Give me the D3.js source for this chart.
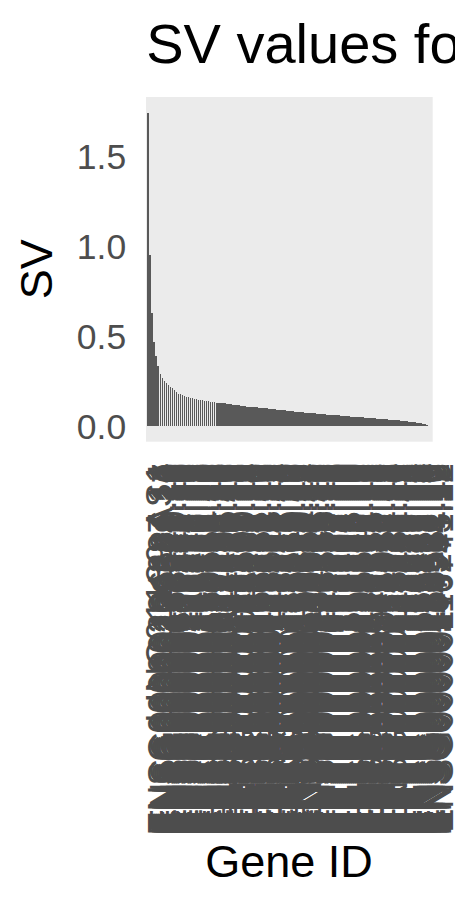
<!DOCTYPE html>
<html>
<head>
<meta charset="utf-8">
<script src="https://cdn.jsdelivr.net/npm/d3@7"></script>
<style>
  html, body { margin: 0; padding: 0; background: #ffffff; }
  svg { display: block; font-family: "Liberation Sans", Arial, Helvetica, sans-serif; }
</style>
</head>
<body>
<svg id="chart" width="455" height="910"></svg>
<script>
// ---- data ----
const genes = [
"LINC01139-AS1","ENSG00000204287.14","ENSG00000196126.11","ENSG00000179344.17","ENSG00000232629.10",
"ENSG00000198502.10","ENSG00000237541.10","ENSG00000163220.11","ENSG00000143546.10","ENSG00000090382.12",
"ENSG00000110848.10","ENSG00000169442.10","ENSG00000105374.10","ENSG00000115523.17","ENSG00000100453.13",
"ENSG00000211899.10","ENSG00000132465.12","ENSG00000170476.16","ENSG00000160255.18","ENSG00000100450.13",
"ENSG00000125730.17","ENSG00000213809.10","ENSG00000167286.10","ENSG00000198851.10","ENSG00000160654.11",
"ENSG00000134539.17","ENSG00000010610.10","ENSG00000153563.16","ENSG00000172116.23","ENSG00000277734.10",
"ENSG00000211772.10","ENSG00000081059.20","ENSG00000111796.11","ENSG00000134460.16","ENSG00000137078.10",
"ENSG00000113088.12","ENSG00000145649.13","ENSG00000159189.12","ENSG00000173372.17","ENSG00000173369.16",
"ENSG00000130203.10","ENSG00000011600.11","ENSG00000204472.13","ENSG00000129226.14","ENSG00000166927.13",
"ENSG00000163563.13","ENSG00000162654.10","ENSG00000108798.16","ENSG00000090339.10","ENSG00000163131.11",
"ENSG00000100365.15","ENSG00000026025.16","ENSG00000038427.16","ENSG00000087086.15","ENSG00000118523.11",
"ENSG00000167996.16","ENSG00000115414.21","ENSG00000164692.18","ENSG00000108821.14","ENSG00000168542.15",
"ENSG00000142156.15","ENSG00000163359.16","ENSG00000187498.16","ENSG00000148180.20","ENSG00000134871.19",
"ENSG00000149968.12","ENSG00000113140.11","ENSG00000125968.10","ENSG00000101335.10","ENSG00000175084.13",
"ENSG00000139329.11","ENSG00000120885.22","ENSG00000116016.14","ENSG00000105664.11","ENSG00000111640.15",
"ENSG00000075624.17","ENSG00000166710.21","ENSG00000204592.10","ENSG00000234745.11","ENSG00000206503.13",
"ENSG00000231389.10","ENSG00000223865.11","ENSG00000196735.12","ENSG00000179583.19","ENSG00000242574.10",
"ENSG00000204257.15","ENSG00000019582.15","ENSG00000168685.15","ENSG00000198938.10","ENSG00000198712.10",
"ENSG00000198804.10","ENSG00000198886.10","ENSG00000212907.10","ENSG00000198727.10","ENSG00000198899.10",
"ENSG00000228253.10","ENSG00000198840.10","ENSG00000198763.10","ENSG00000198695.10","ENSG00000156508.18",
"ENSG00000205542.11","ENSG00000034510.12","ENSG00000167658.16","ENSG00000184009.12","ENSG00000075624.16",
"ENSG00000111237.19","ENSG00000089157.16","ENSG00000142534.13","ENSG00000140988.16","ENSG00000105372.13",
"ENSG00000145425.10","ENSG00000071082.11","ENSG00000177954.12","ENSG00000137818.12","ENSG00000164587.13",
"ENSG00000170889.14","ENSG00000233927.10","ENSG00000118181.11","ENSG00000174748.20","ENSG00000161970.13",
"ENSG00000147403.17","ENSG00000171858.18","ENSG00000105640.13","ENSG00000198918.13","ENSG00000163682.16",
"ENSG00000143947.14","ENSG00000166441.13","ENSG00000164032.12","ENSG00000136942.15","ENSG00000196262.14",
"ENSG00000101439.10","ENSG00000143933.17","ENSG00000198467.14","ENSG00000115268.10","ENSG00000251562.10",
"ENSG00000229117.10","ENSG00000265681.11","ENSG00000187514.16","ENSG00000104904.12","ENSG00000149273.15",
"ENSG00000116741.12"
];

const svValues = [
1.744, 0.95, 0.63, 0.47, 0.39, 0.335, 0.29,
0.265, 0.252, 0.241, 0.231, 0.219, 0.209, 0.200, 0.191, 0.181, 0.178, 0.172, 0.167,
0.163, 0.160, 0.157, 0.154, 0.151, 0.149, 0.147, 0.145, 0.143, 0.141, 0.139, 0.137, 0.135, 0.133, 0.132, 0.130,
0.128, 0.127, 0.127, 0.126, 0.125, 0.124, 0.122,
0.119, 0.118, 0.117, 0.116,
0.113, 0.112, 0.111,
0.108, 0.107, 0.107, 0.106, 0.105, 0.104,
0.102, 0.101, 0.100, 0.099, 0.098,
0.096, 0.095, 0.094, 0.093, 0.092,
0.090, 0.089, 0.088, 0.087, 0.086,
0.083, 0.082, 0.081, 0.080, 0.079,
0.077, 0.076, 0.076, 0.075, 0.074, 0.073,
0.071, 0.070, 0.070, 0.069, 0.068, 0.067,
0.066, 0.065, 0.064, 0.063, 0.062,
0.061, 0.060, 0.060, 0.059, 0.058, 0.057,
0.056, 0.055, 0.054, 0.053, 0.052, 0.051,
0.050, 0.049, 0.049, 0.048, 0.047, 0.046, 0.045,
0.044, 0.043, 0.042, 0.041, 0.040, 0.040,
0.039, 0.038, 0.037, 0.036, 0.035, 0.034,
0.033, 0.032, 0.031, 0.030, 0.029,
0.027, 0.026, 0.025, 0.024,
0.022, 0.021, 0.019, 0.018,
0.016, 0.013,
0.010, 0.006, 0.002
];

const yTicks = [0, 0.5, 1.0, 1.5];
const yTickLabels = ["0.0", "0.5", "1.0", "1.5"];

const titleText = "SV values for top genes";
const xTitle = "Gene ID";
const yTitle = "SV";

// ---- layout ----
const panel = { left: 146.156, right: 431.556, top: 97, bottom: 441.7 };
const n = Math.min(genes.length, svValues.length);
const rows = d3.range(n).map(i => ({ gene: genes[i], sv: svValues[i] }));

const svg = d3.select("#chart");

const x = d3.scaleBand()
  .domain(rows.map(d => d.gene))
  .range([panel.left, panel.right])
  .paddingInner(0.1)
  .paddingOuter(0.65);

const vmax = d3.max(rows, d => d.sv);
const y = d3.scaleLinear()
  .domain([-0.05 * vmax, 1.05 * vmax])
  .range([panel.bottom, panel.top]);

// panel background
svg.append("rect")
  .attr("x", 146).attr("y", panel.top)
  .attr("width", 286.7)
  .attr("height", panel.bottom - panel.top)
  .attr("fill", "#EBEBEB");

// bars
svg.append("g")
  .selectAll("rect")
  .data(rows)
  .join("rect")
  .attr("x", d => x(d.gene))
  .attr("width", x.bandwidth())
  .attr("y", d => y(d.sv))
  .attr("height", d => y(0) - y(d.sv))
  .attr("fill", "#595959")
  .attr("shape-rendering", "crispEdges");

// y axis (labels only, no ticks / line)
const yAxis = d3.axisLeft(y)
  .tickValues(yTicks)
  .tickFormat((d, i) => yTickLabels[i])
  .tickSize(0)
  .tickPadding(0);

const gy = svg.append("g")
  .attr("transform", `translate(${panel.left - 20},0)`)
  .call(yAxis);
gy.select(".domain").remove();
gy.selectAll("text")
  .attr("fill", "#4D4D4D")
  .attr("font-size", 35.5)
  .attr("font-family", "'Liberation Sans', Arial, sans-serif")
  .attr("dy", null)
  .attr("dominant-baseline", "central");

// x axis (rotated labels, no ticks / line)
const xAxis = d3.axisBottom(x).tickSize(0).tickPadding(0);
const gx = svg.append("g")
  .attr("transform", `translate(0,${panel.bottom})`)
  .call(xAxis);
gx.select(".domain").remove();
gx.selectAll(".tick text")
  .attr("fill", "#4D4D4D")
  .attr("font-size", 36)
  .attr("font-family", "'Liberation Sans', Arial, sans-serif")
  .attr("text-anchor", "end")
  .attr("dy", null)
  .attr("y", 0)
  .attr("transform", "translate(24,21.5) rotate(-90)");

// titles
svg.append("text")
  .attr("x", panel.left)
  .attr("y", 63)
  .attr("font-size", 56)
  .attr("fill", "#000000")
  .text(titleText);

svg.append("text")
  .attr("transform", `translate(52,${(panel.top + panel.bottom) / 2}) rotate(-90)`)
  .attr("text-anchor", "middle")
  .attr("font-size", 45)
  .attr("fill", "#000000")
  .text(yTitle);

svg.append("text")
  .attr("x", 289)
  .attr("y", 877)
  .attr("text-anchor", "middle")
  .attr("font-size", 45)
  .attr("fill", "#000000")
  .text(xTitle);
</script>
</body>
</html>
